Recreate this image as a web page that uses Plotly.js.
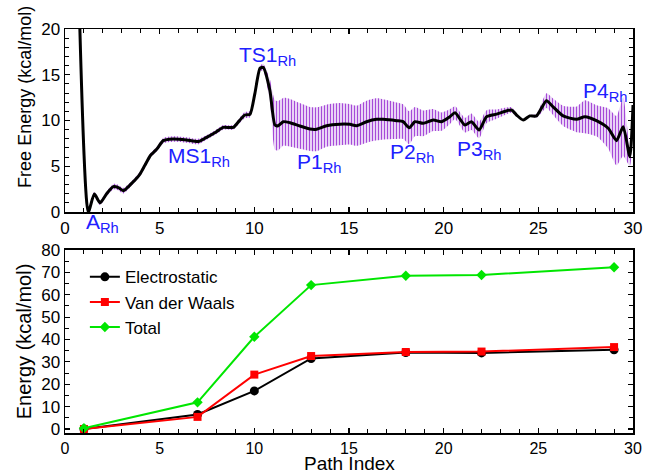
<!DOCTYPE html>
<html>
<head>
<meta charset="utf-8">
<script src="https://cdn.plot.ly/plotly-3.0.1.min.js"></script>
<style>html,body{margin:0;padding:0;background:#fff;}#chart{width:646px;height:475px;}</style>
</head>
<body>
<div id="chart"></div>
<script>
// ---- Top panel: free energy profile ----
var pathX = [0.72, 1.23, 1.55, 1.85, 2.2, 2.55, 2.82, 3.08, 3.52, 3.96, 4.22, 4.52, 4.84, 5.19, 5.72, 6.42, 7.04, 7.48, 8.0, 8.36, 8.89, 9.24, 9.5, 9.77, 10.03, 10.3, 10.47, 10.82, 11.09, 11.26, 11.53, 11.88, 12.41, 12.94, 13.29, 13.82, 14.52, 15.05, 15.4, 15.93, 16.46, 16.8, 17.51, 17.86, 18.18, 18.48, 18.92, 19.45, 19.89, 20.33, 20.6, 21.12, 21.47, 21.87, 22.27, 22.8, 23.58, 23.85, 24.2, 24.55, 24.9, 25.43, 25.78, 26.31, 27.02, 27.46, 28.07, 28.69, 29.13, 29.48, 29.83, 30.0];
var freeEnergy = [25, 0, 1.97, 1.0, 2.0, 2.77, 2.66, 2.33, 3.13, 4.15, 5.1, 6.2, 6.85, 7.8, 7.98, 7.87, 7.7, 8.16, 8.78, 9.25, 9.25, 10.05, 10.6, 10.67, 12.97, 15.7, 15.8, 13.3, 9.5, 9.43, 9.87, 9.76, 9.4, 9.07, 9.04, 9.43, 9.6, 9.58, 9.43, 9.87, 10.13, 10.13, 9.98, 9.87, 9.2, 9.87, 9.69, 10.05, 9.87, 10.42, 10.85, 9.5, 9.87, 8.96, 10.42, 10.7, 11.15, 10.6, 10.05, 10.5, 10.5, 12.17, 11.5, 10.5, 10.13, 10.42, 9.98, 9.15, 7.8, 9.33, 6.05, 11.7];
var feError = [0.25, 0.25, 0.25, 0.25, 0.25, 0.3, 0.3, 0.3, 0.25, 0.25, 0.25, 0.25, 0.25, 0.3, 0.3, 0.3, 0.3, 0.25, 0.25, 0.25, 0.25, 0.3, 0.35, 0.35, 0.3, 0.3, 0.4, 1.2, 2.7, 2.7, 2.6, 2.6, 2.5, 2.4, 2.4, 2.3, 2.3, 2.2, 2.2, 2.3, 2.3, 2.2, 2.0, 1.9, 1.8, 1.6, 1.4, 1.2, 1.0, 0.8, 0.7, 0.8, 0.9, 0.9, 0.7, 0.5, 0.3, 0.2, 0.1, 0.1, 0.2, 0.8, 0.9, 1.1, 1.4, 1.8, 1.7, 2.2, 2.7, 3.2, 1.0, 0.5];

// ---- Bottom panel: interaction energies ----
var pathIndex = [1, 7, 10, 13, 18, 22, 29];
var electrostatic = [0, 6.5, 17.0, 31.5, 34.2, 34.0, 35.4];
var vanDerWaals = [0, 5.4, 24.3, 32.6, 34.4, 34.6, 36.6];
var totalEnergy = [0.3, 11.9, 41.2, 64.3, 68.5, 68.8, 72.3];

// ---- Labels ----
var stateLabels = ['A', 'MS1', 'TS1', 'P1', 'P2', 'P3', 'P4'];
var stateLabelX = [1.0, 5.36, 9.06, 12.17, 17.08, 20.62, 27.25];
var stateLabelY = [0.4, 7.6, 18.65, 6.95, 8.05, 8.45, 14.8];

var upper = freeEnergy.map(function (v, i) { return v + feError[i]; });
var lower = freeEnergy.map(function (v, i) { return v - feError[i]; });

var FONT = 'Liberation Sans, Arial, Helvetica, sans-serif';
var purple = '#a64ad8';

var traces = [
  { x: pathX, y: upper, xaxis: 'x', yaxis: 'y', mode: 'lines',
    line: { width: 0, shape: 'spline', smoothing: 0.6 }, hoverinfo: 'skip', showlegend: false },
  { x: pathX, y: lower, xaxis: 'x', yaxis: 'y', mode: 'lines', fill: 'tonexty',
    fillcolor: 'rgba(255,255,255,0)',
    fillpattern: { shape: '|', size: 3, solidity: 0.5, fgcolor: purple, bgcolor: 'rgba(255,255,255,0)' },
    line: { width: 0, shape: 'spline', smoothing: 0.6 }, hoverinfo: 'skip', showlegend: false },
  { x: pathX, y: freeEnergy, xaxis: 'x', yaxis: 'y', mode: 'lines',
    line: { color: '#000', width: 3, shape: 'spline', smoothing: 0.6 }, showlegend: false },
  { x: pathIndex, y: electrostatic, xaxis: 'x2', yaxis: 'y2', mode: 'lines+markers', name: 'Electrostatic',
    line: { color: '#000', width: 2 }, marker: { symbol: 'circle', size: 9, color: '#000' } },
  { x: pathIndex, y: vanDerWaals, xaxis: 'x2', yaxis: 'y2', mode: 'lines+markers', name: 'Van der Waals',
    line: { color: '#ff0000', width: 2 }, marker: { symbol: 'square', size: 8, color: '#ff0000' } },
  { x: pathIndex, y: totalEnergy, xaxis: 'x2', yaxis: 'y2', mode: 'lines+markers', name: 'Total',
    line: { color: '#00e600', width: 2 }, marker: { symbol: 'diamond', size: 8, color: '#00e600' } }
];

var annotations = stateLabels.map(function (t, i) {
  return { x: stateLabelX[i], y: stateLabelY[i], xref: 'x', yref: 'y', text: t + '<sub>Rh</sub>',
    showarrow: false, xanchor: 'left', yanchor: 'top',
    font: { family: FONT, size: 21, color: '#2020ff' } };
});
// top panel y-axis title (sits above the panel centre in the reference)
annotations.push({ x: -0.0704, y: 0.832, xref: 'paper', yref: 'paper', text: 'Free Energy (kcal/mol)',
  textangle: -90, showarrow: false, xanchor: 'center', yanchor: 'middle',
  font: { family: FONT, size: 18, color: '#000' } });
// bottom x-axis title
annotations.push({ x: 0.5, y: -0.1035, xref: 'paper', yref: 'paper', text: 'Path Index',
  showarrow: false, xanchor: 'center', yanchor: 'bottom', borderpad: 0,
  font: { family: FONT, size: 19, color: '#000' } });

function axisBase() {
  return {
    showline: true, linecolor: '#000', linewidth: 1.5, mirror: 'allticks',
    ticks: 'inside', ticklen: 5, tickwidth: 1.2, tickcolor: '#000',
    showgrid: false, zeroline: false,
    tickfont: { family: FONT, size: 17, color: '#000' }
  };
}

var xa = axisBase(); xa.domain = [0, 1]; xa.range = [0, 30]; xa.dtick = 5; xa.anchor = 'y';
xa.minor = { dtick: 1, ticks: 'inside', ticklen: 4, tickcolor: '#000', tickwidth: 1 };
var ya = axisBase(); ya.domain = [0.547, 1]; ya.range = [0, 20]; ya.dtick = 5; ya.anchor = 'x';
ya.minor = { dtick: 1, ticks: 'inside', ticklen: 4, tickcolor: '#000', tickwidth: 1 };

var xa2 = axisBase(); xa2.domain = [0, 1]; xa2.range = [0, 30]; xa2.dtick = 5; xa2.anchor = 'y2';
xa2.minor = { dtick: 1, ticks: 'inside', ticklen: 4, tickcolor: '#000', tickwidth: 1 };
xa2.tickfont = { family: FONT, size: 16, color: '#000' };
var ya2 = axisBase(); ya2.domain = [0, 0.453]; ya2.range = [-1.8, 80]; ya2.dtick = 10; ya2.anchor = 'x2';
ya2.minor = { dtick: 5, ticks: 'inside', ticklen: 4, tickcolor: '#000', tickwidth: 1 };
ya2.title = { text: 'Energy (kcal/mol)', font: { family: FONT, size: 20, color: '#000' }, standoff: 4 };

var layout = {
  width: 646, height: 475,
  margin: { l: 65, r: 13, t: 29, b: 42 },
  paper_bgcolor: '#fff', plot_bgcolor: '#fff',
  font: { family: FONT, color: '#000' },
  xaxis: xa, yaxis: ya, xaxis2: xa2, yaxis2: ya2,
  annotations: annotations,
  legend: { x: 0.035, y: 0.43, xanchor: 'left', yanchor: 'top', bgcolor: 'rgba(0,0,0,0)',
    traceorder: 'normal',
    font: { family: FONT, size: 17, color: '#000' }, tracegroupgap: 0 },
  showlegend: true
};

Plotly.newPlot('chart', traces, layout, { displayModeBar: false, staticPlot: true });
</script>
</body>
</html>
